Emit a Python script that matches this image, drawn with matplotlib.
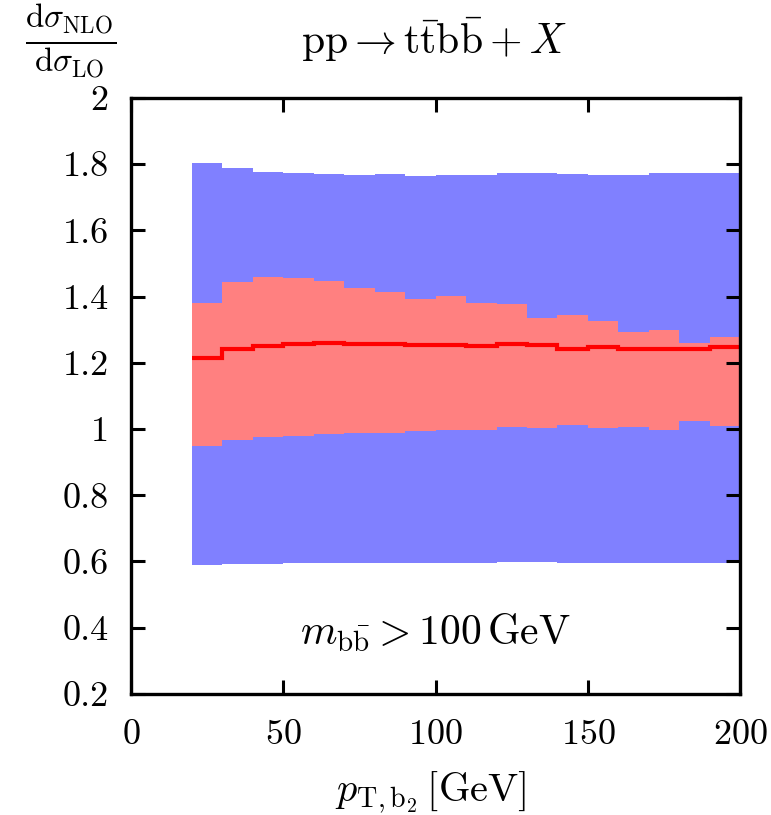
import numpy as np
import matplotlib
matplotlib.use("Agg")
import matplotlib.pyplot as plt

plt.rcParams["font.family"] = "serif"
plt.rcParams["font.serif"] = ["cmr10"]
plt.rcParams["mathtext.fontset"] = "cm"
plt.rcParams["axes.formatter.use_mathtext"] = True

# bin edges in GeV
edges = np.arange(20, 201, 10)

# LO scale band (blue)
lo_upper = [1.803, 1.788, 1.776, 1.773, 1.770, 1.767, 1.770, 1.764, 1.767,
            1.767, 1.773, 1.773, 1.770, 1.767, 1.767, 1.773, 1.773, 1.773]
lo_lower = [0.590, 0.593, 0.593, 0.595, 0.595, 0.595, 0.595, 0.595, 0.595,
            0.595, 0.598, 0.598, 0.595, 0.595, 0.595, 0.595, 0.595, 0.595]

# NLO scale band (red) and central ratio
nlo_upper = [1.379, 1.445, 1.458, 1.455, 1.448, 1.427, 1.415, 1.394, 1.403,
             1.379, 1.376, 1.336, 1.345, 1.327, 1.294, 1.300, 1.261, 1.279]
nlo_lower = [0.949, 0.967, 0.976, 0.979, 0.985, 0.988, 0.988, 0.994, 0.998,
             0.998, 1.006, 1.004, 1.012, 1.004, 1.006, 0.998, 1.024, 1.009]
ratio = [1.214, 1.242, 1.252, 1.258, 1.260, 1.258, 1.256, 1.253, 1.254,
         1.251, 1.257, 1.255, 1.242, 1.248, 1.242, 1.242, 1.242, 1.248]

fig = plt.figure(figsize=(7.71, 8.15), dpi=100)
ax = fig.add_axes([0.170, 0.1485, 0.790, 0.7315])

ax.stairs(lo_upper, edges, baseline=lo_lower, fill=True, color="#8080ff", lw=0)
ax.stairs(nlo_upper, edges, baseline=nlo_lower, fill=True, color="#ff8080", lw=0)
ax.stairs(ratio, edges, baseline=None, color="#ff0000", lw=3)

ax.set_xlim(0, 200)
ax.set_ylim(0.2, 2.0)
ax.set_xticks([0, 50, 100, 150, 200])
ax.set_yticks([0.2, 0.4, 0.6, 0.8, 1.0, 1.2, 1.4, 1.6, 1.8, 2.0])
ax.set_yticklabels(["0.2", "0.4", "0.6", "0.8", "1", "1.2", "1.4", "1.6", "1.8", "2"])
ax.tick_params(direction="in", length=10, width=2.2, top=True, right=True,
               labelsize=26)
ax.tick_params(axis="y", pad=16)
ax.tick_params(axis="x", pad=18)
for s in ax.spines.values():
    s.set_linewidth(2.4)

ax.text(100, 0.385, r"$m_{\mathrm{b\bar{b}}} > 100\,\mathrm{GeV}$",
        ha="center", va="center", fontsize=30)

fig.text(0.559, 0.028, r"$p_{\mathrm{T,b_2}}\,[\mathrm{GeV}]$",
         ha="center", va="center", fontsize=29)
fig.text(0.563, 0.951, r"$\mathrm{pp} \rightarrow \mathrm{t\bar{t}b\bar{b}} + X$",
         ha="center", va="center", fontsize=30)
fig.text(0.091, 0.948, r"$\frac{\mathrm{d}\sigma_{\mathrm{NLO}}}{\mathrm{d}\sigma_{\mathrm{LO}}}$",
         ha="center", va="center", fontsize=34)

fig.savefig("out.png", dpi=100)
